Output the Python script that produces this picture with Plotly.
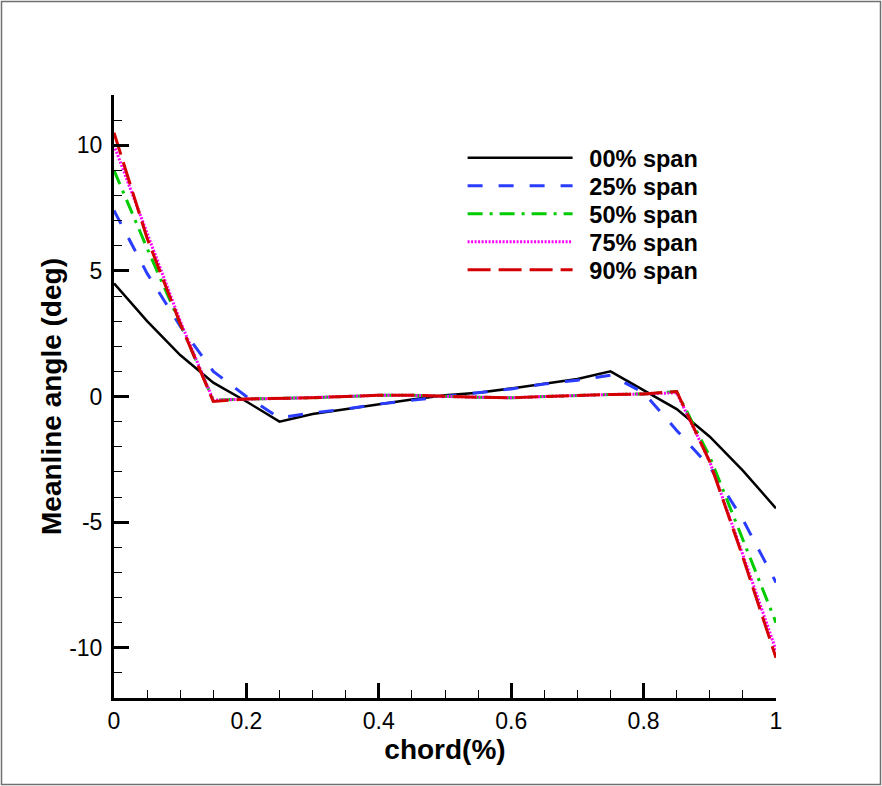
import plotly.graph_objects as go

chord = [0.0, 0.05, 0.10, 0.15, 0.20, 0.25, 0.30, 0.35, 0.40, 0.45, 0.50,
         0.55, 0.60, 0.65, 0.70, 0.75, 0.80, 0.85, 0.90, 0.95, 1.0]

span00 = [4.5, 3.0, 1.65, 0.55, -0.2, -1.0, -0.7, -0.5, -0.3, -0.12, 0.05,
          0.15, 0.32, 0.5, 0.7, 1.0, 0.25, -0.5, -1.6, -2.95, -4.45]
span25 = [7.4, 4.9, 2.8, 1.0, 0.0, -0.85, -0.65, -0.5, -0.3, -0.15, 0.0,
          0.15, 0.3, 0.5, 0.65, 0.85, 0.15, -1.35, -2.8, -4.9, -7.4]
span50 = [9.0, 5.9, 2.9, -0.15, -0.1, -0.08, -0.05, 0.0, 0.05, 0.05, 0.0,
          -0.03, -0.05, 0.0, 0.05, 0.08, 0.1, 0.2, -2.4, -5.7, -9.0]
span75 = [10.0, 6.5, 3.0, -0.15, -0.1, -0.08, -0.05, 0.0, 0.05, 0.05, 0.0,
          -0.03, -0.05, 0.0, 0.05, 0.08, 0.1, 0.15, -2.6, -6.3, -10.1]
span90 = [10.5, 6.3, 2.9, -0.2, -0.1, -0.08, -0.05, 0.0, 0.05, 0.05, 0.0,
          -0.03, -0.05, 0.0, 0.05, 0.08, 0.1, 0.2, -2.6, -6.4, -10.4]

names = ["00% span", "25% span", "50% span", "75% span", "90% span"]
series = [span00, span25, span50, span75, span90]
colors = ["#000000", "#2a3cff", "#00cc00", "#ff00ff", "#d40000"]
dashes = ["solid", "15px,16px", "15px,7px,3px,7px", "2px,1.5px", "23px,8px"]
widths = [2.5, 3, 3, 3, 3]

y_ticks = [-10, -5, 0, 5, 10]
y_ticktext = ["-10", "-5", "0", "5", "10"]
x_ticks = [0, 0.2, 0.4, 0.6, 0.8, 1]
x_ticktext = ["0", "0.2", "0.4", "0.6", "0.8", "1"]

FONT = "Liberation Sans, Arial, sans-serif"

# plot area in pixels
L, T, PW, PH = 114, 95, 662, 603
W, H = 882, 786

legend_ids = ["legend", "legend2", "legend3", "legend4", "legend5"]
legend_rows_px = [158, 186, 214, 242, 270]

fig = go.Figure()
for n, s, c, d, w, lg in zip(names, series, colors, dashes, widths, legend_ids):
    fig.add_trace(go.Scatter(x=chord, y=s, mode="lines", name="\u2002" + n,
                             legend=lg, showlegend=True,
                             line=dict(color=c, dash=d, width=w)))

axis_common = dict(showline=True, linewidth=3, linecolor="black",
                   ticks="inside", ticklen=15, tickwidth=2.5, tickcolor="black",
                   showgrid=False, zeroline=False, mirror=False,
                   tickfont=dict(family=FONT, size=23, color="black"))

fig.update_xaxes(range=[0, 1], tickvals=x_ticks, ticktext=x_ticktext,
                 minor=dict(dtick=0.05, ticks="inside", ticklen=8, tickwidth=1, tickcolor="black"),
                 title=dict(text="<b>chord(%)</b>", font=dict(family=FONT, size=28, color="black"), standoff=0),
                 **axis_common)
fig.update_yaxes(range=[-12, 12], tickvals=y_ticks, ticktext=y_ticktext,
                 ticklabelstandoff=4,
                 minor=dict(dtick=1, ticks="inside", ticklen=8, tickwidth=1, tickcolor="black"),
                 title=dict(text="<b>Meanline angle (deg)</b>", font=dict(family=FONT, size=28, color="black"), standoff=0),
                 **axis_common)

fig.add_shape(type="rect", xref="paper", yref="paper",
              x0=(1.5 - L) / PW, x1=(880.5 - L) / PW,
              y0=(T + PH - 784.5) / PH, y1=(T + PH - 1.5) / PH,
              line=dict(color="#707070", width=1.5), layer="below")

legend_style = dict(xanchor="left", yanchor="middle", visible=True,
                    bgcolor="rgba(0,0,0,0)", borderwidth=0,
                    itemwidth=105, tracegroupgap=0,
                    font=dict(family=FONT, size=23.5, color="black", weight="bold"))
leg_x = (462.6 - L) / PW
layout_legends = {}
for lg, ypx in zip(legend_ids, legend_rows_px):
    layout_legends[lg] = dict(x=leg_x, y=(T + PH - ypx) / PH, **legend_style)

fig.update_layout(
    width=W, height=H,
    margin=dict(l=L, r=W - L - PW, t=T, b=H - T - PH),
    paper_bgcolor="white", plot_bgcolor="white",
    font=dict(family=FONT, color="black"),
    showlegend=True,
    **layout_legends,
)

fig.write_html("out.html", config={"displayModeBar": False},
               post_script="document.body.style.margin='0px';")
